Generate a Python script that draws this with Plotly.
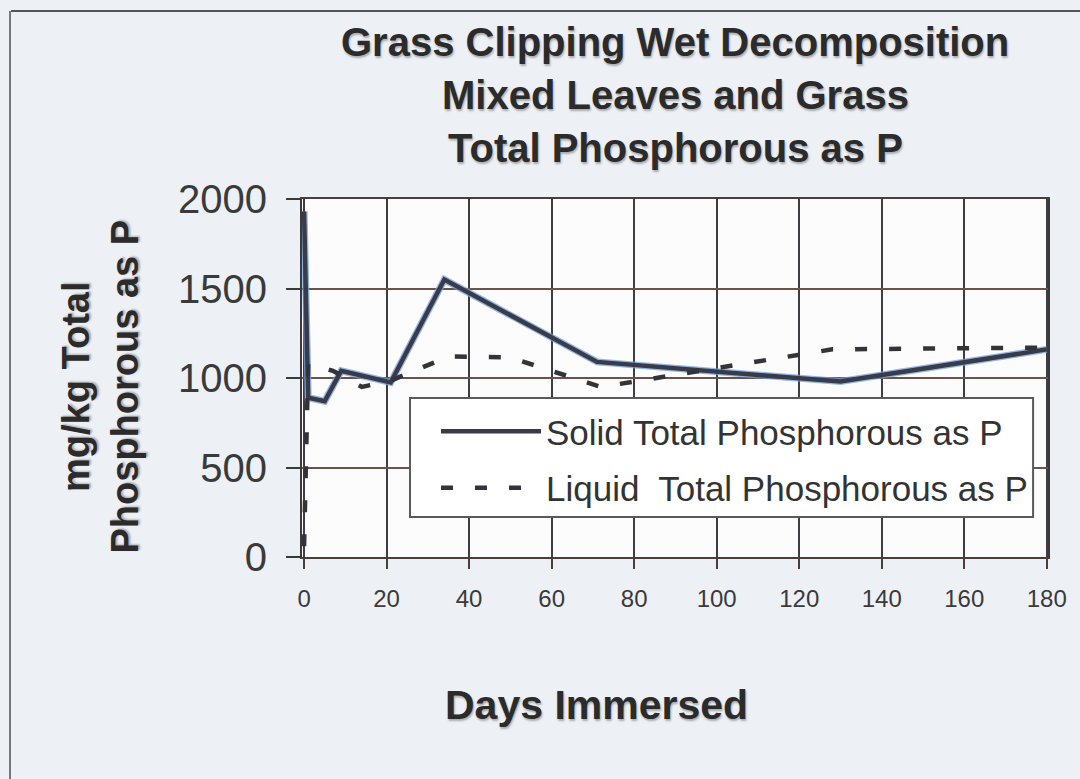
import plotly.graph_objects as go

# Days immersed and total phosphorous (mg/kg)
solidDays = [0, 1, 5, 9, 21, 34, 71, 130, 180]
solidP = [1930, 890, 870, 1040, 975, 1550, 1090, 980, 1160]

liquidDays = [0, 1, 7, 14, 21, 35, 50, 72, 128, 180]
liquidP = [60, 1080, 1040, 950, 985, 1120, 1115, 950, 1160, 1170]

xTicks = [0, 20, 40, 60, 80, 100, 120, 140, 160, 180]
yTicks = [0, 500, 1000, 1500, 2000]

titleLines = ["Grass Clipping Wet Decomposition",
              "Mixed Leaves and Grass",
              "Total Phosphorous as P"]
titleY = [1.4385, 1.2905, 1.1425]

FONT = "Liberation Sans, Arial, sans-serif"
TXT = "#2b2b2b"
SHADOW = "1px 2px 2px rgba(90,90,90,0.45)"


def axisLayout(vals, gridcolor, linecolor):
    return dict(
        tickvals=vals,
        showgrid=True,
        gridcolor=gridcolor,
        gridwidth=2,
        showline=True,
        linecolor=linecolor,
        linewidth=2,
        mirror=True,
        ticks="outside",
        tickcolor=linecolor,
        tickwidth=2,
        zeroline=False,
        fixedrange=True,
    )


def textNote(text, x, y, size, **kw):
    d = dict(text=text, xref="paper", yref="paper", x=x, y=y,
             xanchor="center", yanchor="middle", showarrow=False,
             font=dict(size=size, color=TXT, family=FONT, shadow=SHADOW))
    d.update(kw)
    return d


fig = go.Figure()

# soft blue halo under the solid series, like the scanned original
fig.add_trace(go.Scatter(
    x=solidDays, y=solidP, mode="lines",
    line=dict(color="rgba(110,160,225,0.75)", width=7),
    showlegend=False, hoverinfo="skip"))

fig.add_trace(go.Scatter(
    x=solidDays, y=solidP, mode="lines",
    name="Solid Total Phosphorous as P",
    line=dict(color="#3a3b48", width=4.5),
    legendgroup="a"))

fig.add_trace(go.Scatter(
    x=liquidDays, y=liquidP, mode="lines",
    name="Liquid  Total Phosphorous as P",
    line=dict(color="#33333a", width=4.5, dash="12px,22px"),
    legendgroup="b"))

xa = axisLayout(xTicks, "#3d3d42", "#4a3d3a")
xa.update(range=[-0.5, 180.3], ticklen=10, ticklabelstandoff=9,
          tickfont=dict(size=24, color="#3a3a3a", family=FONT))
ya = axisLayout(yTicks, "#6e5249", "#3a3a3a")
ya.update(range=[0, 2000], ticklen=14, ticklabelstandoff=11,
          tickfont=dict(size=40, color="#3a3a3a", family=FONT))

annotations = [textNote("<b>%s</b>" % t, 0.5, y, 40)
               for t, y in zip(titleLines, titleY)]
annotations.append(textNote("<b>Days Immersed</b>", 0.395, -0.413, 41))
annotations.append(textNote("<b>mg/kg Total<br>Phosphorous as P</b>",
                            -0.27, 0.475, 38, textangle=-90))

fig.update_layout(
    width=1080, height=779,
    margin=dict(l=302, r=32, t=199, b=222),
    paper_bgcolor="#edf0f5",
    plot_bgcolor="#fcfcfd",
    font=dict(family=FONT, color=TXT),
    xaxis=xa,
    yaxis=ya,
    showlegend=True,
    legend=dict(
        x=0.1796, y=0.433, xanchor="left", yanchor="top",
        bgcolor="rgba(0,0,0,0)", borderwidth=0,
        font=dict(size=35, color="#333333", family=FONT),
        itemwidth=100, tracegroupgap=8,
        itemclick=False, itemdoubleclick=False),
    annotations=annotations,
    shapes=[
        # legend box
        dict(type="rect", xref="paper", yref="paper", layer="above",
             x0=0.1448, x1=0.98, y0=0.1117, y1=0.444,
             fillcolor="#ffffff", line=dict(color="#5a5a5a", width=2)),
        # frame of the scanned page
        dict(type="line", xref="paper", yref="paper",
             x0=-0.39, x1=1.05, y0=1.525, y1=1.525,
             line=dict(color="#555555", width=2)),
        dict(type="line", xref="paper", yref="paper",
             x0=-0.3914, x1=-0.3914, y0=1.525, y1=-0.63,
             line=dict(color="#777777", width=2)),
    ],
)

fig.write_html("out.html", config={"displayModeBar": False},
               post_script="document.body.style.margin='0';")
